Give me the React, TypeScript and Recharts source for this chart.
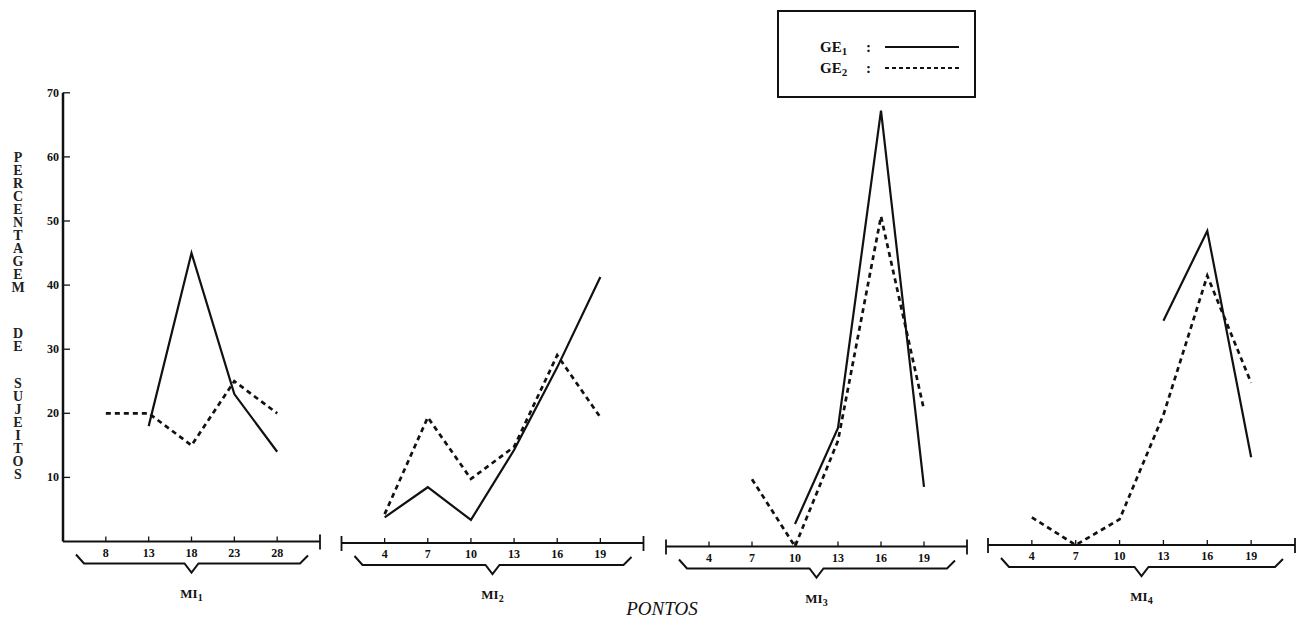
import React from 'react'
import { LineChart, Line, XAxis, YAxis, Legend } from 'recharts'

const W = 1309
const H = 632
const SERIF = '"Liberation Serif", "DejaVu Serif", serif'

// pontos (x) and percentagem de sujeitos (y) per MI block
const mi1Pontos = [8, 13, 18, 23, 28]
const mi1Ge1 = [null, 18, 45, 23, 14]
const mi1Ge2 = [20, 20, 15, 25, 20]

const mi2Pontos = [4, 7, 10, 13, 16, 19]
const mi2Ge1 = [4, 8.7, 3.6, 14.5, 27.4, 41.5]
const mi2Ge2 = [4.5, 19.6, 10, 15, 29.3, 19.6]

const mi3Pontos = [4, 7, 10, 13, 16, 19]
const mi3Ge1 = [null, null, 3.5, 18.5, 68, 9.3]
const mi3Ge2 = [null, 10.5, 0, 16.5, 51.5, 21.3]

const mi4Pontos = [4, 7, 10, 13, 16, 19]
const mi4Ge1 = [null, null, null, 35, 49, 13.7]
const mi4Ge2 = [4.3, 0, 4, 20.3, 42, 25.3]

const yTicks = [10, 20, 30, 40, 50, 60, 70]
const yTitle = ['PERCENTAGEM', 'DE', 'SUJEITOS']
const seriesNames = ['GE1', 'GE2']

const toRows = (pontos: number[], ge1: (number | null)[], ge2: (number | null)[]) =>
  pontos.map((p, i) => ({ ponto: p, ge1: ge1[i], ge2: ge2[i] }))

const PX_PER_UNIT = 6.41
const AXIS_H = 70

function XTick(props: any) {
  const { x, payload, baseline, domain } = props
  const v = payload.value
  if (v === domain[0] || v === domain[1]) {
    return <line x1={x} x2={x} y1={baseline - 7} y2={baseline + 8} stroke="#111" strokeWidth={1.8} />
  }
  return (
    <g>
      <line x1={x} x2={x} y1={baseline - 5} y2={baseline} stroke="#111" strokeWidth={1.3} />
      <text x={x} y={baseline + 15} textAnchor="middle" fontFamily={SERIF} fontWeight="bold" fontSize={12} fill="#111">
        {v}
      </text>
    </g>
  )
}

function YTick(props: any) {
  const { y, payload } = props
  return (
    <g>
      <line x1={63} x2={70} y1={y} y2={y} stroke="#111" strokeWidth={1.3} />
      <text x={59} y={y + 4} textAnchor="end" fontFamily={SERIF} fontWeight="bold" fontSize={12} fill="#111">
        {payload.value}
      </text>
    </g>
  )
}

function YTitle() {
  const starts = [162, 338, 388]
  return (
    <g>
      {yTitle.map((word, w) =>
        word.split('').map((ch, i) => (
          <text key={`${w}-${i}`} x={18} y={starts[w] + i * 13} textAnchor="middle"
            fontFamily={SERIF} fontWeight="bold" fontSize={14} fill="#222">
            {ch}
          </text>
        ))
      )}
    </g>
  )
}

function Brace(props: any) {
  const { viewBox, sub } = props
  if (!viewBox) return null
  const { x, y, width } = viewBox
  const x0 = x + 13
  const x1 = x + width - 12
  const mid = x + width / 2
  const d = `M${x0},${y + 13} L${x0 + 8},${y + 22} L${mid - 7},${y + 22} L${mid},${y + 31} L${mid + 7},${y + 22} L${x1 - 8},${y + 22} L${x1},${y + 14}`
  return (
    <g>
      <path d={d} fill="none" stroke="#111" strokeWidth={2} />
      <text x={mid} y={y + 56} textAnchor="middle" fontFamily={SERIF} fontWeight="bold" fontSize={13} fill="#111">
        MI<tspan fontSize={10} dy={3}>{sub}</tspan>
      </text>
    </g>
  )
}

function LegendBox(props: any) {
  const { payload = [] } = props
  return (
    <svg width={199} height={88}>
      <rect x={1} y={1} width={197} height={86} fill="#fff" stroke="#111" strokeWidth={2} />
      {payload.map((entry: any, i: number) => {
        const name = String(entry.value)
        return (
          <g key={name}>
            <text x={43} y={42 + i * 21} fontFamily={SERIF} fontWeight="bold" fontSize={15} fill="#111">
              {name.slice(0, -1)}<tspan fontSize={11} dy={3}>{name.slice(-1)}</tspan>
            </text>
            <text x={89} y={42 + i * 21} fontFamily={SERIF} fontWeight="bold" fontSize={15} fill="#111">:</text>
            <line x1={108} x2={182} y1={37 + i * 21} y2={37 + i * 21} stroke="#111" strokeWidth={1.8}
              strokeDasharray={i === 1 ? '4 3' : undefined} />
          </g>
        )
      })}
    </svg>
  )
}

type PanelProps = {
  rows: { ponto: number; ge1: number | null; ge2: number | null }[]
  plotLeft: number
  plotRight: number
  baseline: number
  domain: [number, number]
  ticks: number[]
  sub: string
  first?: boolean
}

function Panel({ rows, plotLeft, plotRight, baseline, domain, ticks, sub, first }: PanelProps) {
  const yW = first ? 30 : 0
  const allTicks = first ? [...ticks, domain[1]] : [domain[0], ...ticks, domain[1]]
  return (
    <div style={{ position: 'absolute', left: 0, top: 0 }}>
      <LineChart
        width={W}
        height={H}
        data={rows}
        margin={{
          top: baseline - PX_PER_UNIT * 70,
          bottom: H - baseline - AXIS_H,
          left: plotLeft - yW,
          right: W - plotRight,
        }}
      >
        <XAxis
          type="number"
          dataKey="ponto"
          domain={domain}
          ticks={allTicks}
          interval={0}
          allowDataOverflow
          height={AXIS_H}
          tickLine={false}
          axisLine={{ stroke: '#111', strokeWidth: 1.8 }}
          tick={(p: any) => <XTick {...p} baseline={baseline} domain={domain} />}
          label={<Brace sub={sub} />}
        />
        <YAxis
          type="number"
          domain={[0, 70]}
          ticks={yTicks}
          interval={0}
          hide={!first}
          width={yW}
          tickLine={false}
          axisLine={{ stroke: '#111', strokeWidth: 2.5 }}
          tick={(p: any) => <YTick {...p} />}
          label={first ? <YTitle /> : undefined}
        />
        {first && (
          <Legend
            layout="horizontal"
            verticalAlign="middle"
            align="center"
            content={<LegendBox />}
            wrapperStyle={{ position: 'absolute', left: 777, top: 10, width: 199, height: 88 }}
          />
        )}
        <Line dataKey="ge1" name={seriesNames[0]} stroke="#111" strokeWidth={2.2} dot={false}
          isAnimationActive={false} connectNulls={false} />
        <Line dataKey="ge2" name={seriesNames[1]} stroke="#111" strokeWidth={2.7} strokeDasharray="5 4"
          dot={false} isAnimationActive={false} connectNulls={false} />
      </LineChart>
    </div>
  )
}

export default function App() {
  return (
    <div style={{ position: 'absolute', left: 0, top: 0, width: W, height: H, background: '#fff', overflow: 'hidden' }}>
      <Panel rows={toRows(mi1Pontos, mi1Ge1, mi1Ge2)} plotLeft={63} plotRight={320} baseline={541.5}
        domain={[3, 33]} ticks={mi1Pontos} sub="1" first />
      <Panel rows={toRows(mi2Pontos, mi2Ge1, mi2Ge2)} plotLeft={341.5} plotRight={643.5} baseline={543}
        domain={[1, 22]} ticks={mi2Pontos} sub="2" />
      <Panel rows={toRows(mi3Pontos, mi3Ge1, mi3Ge2)} plotLeft={666} plotRight={967} baseline={546.5}
        domain={[1, 22]} ticks={mi3Pontos} sub="3" />
      <Panel rows={toRows(mi4Pontos, mi4Ge1, mi4Ge2)} plotLeft={988} plotRight={1295} baseline={545}
        domain={[1, 22]} ticks={mi4Pontos} sub="4" />
      <div style={{ position: 'absolute', left: 562, top: 599, width: 200, textAlign: 'center',
        fontFamily: SERIF, fontStyle: 'italic', fontSize: 19, lineHeight: '20px', color: '#111' }}>
        PONTOS
      </div>
    </div>
  )
}
